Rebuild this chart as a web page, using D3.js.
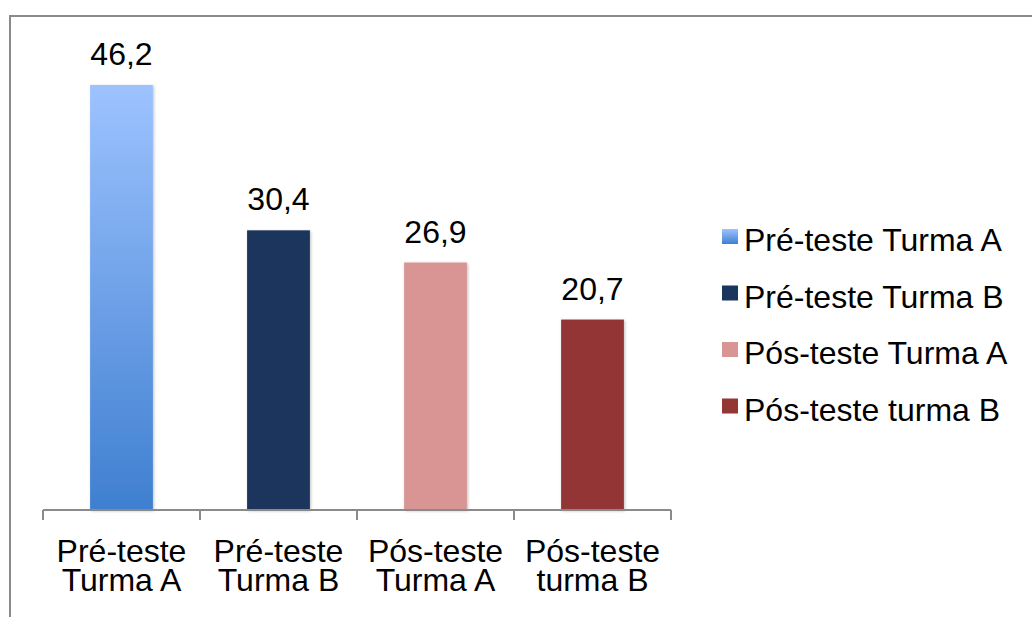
<!DOCTYPE html>
<html lang="pt">
<head>
<meta charset="UTF-8">
<title>Pré-teste e Pós-teste</title>
<style>
  html, body { margin: 0; background: #fff; }
  body, text { font-family: 'Liberation Sans', Arial, sans-serif; }
  svg { display: block; }
</style>
</head>
<body>
<svg width="1032" height="617"></svg>
<script src="https://d3js.org/d3.v7.min.js"></script>
<script>

const categories = ["Pré-teste Turma A", "Pré-teste Turma B", "Pós-teste Turma A", "Pós-teste turma B"];
const axisLabels = [["Pré-teste", "Turma A"], ["Pré-teste", "Turma B"], ["Pós-teste", "Turma A"], ["Pós-teste", "turma B"]];
const values = [46.2, 30.4, 26.9, 20.7];
const valueLabels = ["46,2", "30,4", "26,9", "20,7"];
const colors = ["url(#gradA)", "#1b365d", "#d99594", "#943634"];

const svg = d3.select("svg"),
    plot = {left: 43, right: 671, top: 50, bottom: 510};

const defs = svg.append("defs");
const grad = defs.append("linearGradient")
    .attr("id", "gradA")
    .attr("x1", 0).attr("y1", 0).attr("x2", 0).attr("y2", 1);
grad.append("stop").attr("offset", "0%").attr("stop-color", "#9dc3ff");
grad.append("stop").attr("offset", "100%").attr("stop-color", "#3f7fd0");

const shadow = defs.append("filter").attr("id", "shadow")
    .attr("x", "-20%").attr("y", "-5%").attr("width", "140%").attr("height", "110%");
shadow.append("feDropShadow")
    .attr("dx", 1).attr("dy", 1).attr("stdDeviation", 1.5)
    .attr("flood-color", "#000").attr("flood-opacity", 0.25);

// frame (only top and left edges show in the picture)
svg.append("path")
    .attr("d", "M10,617V16H1032")
    .attr("fill", "none")
    .attr("stroke", "#8a8a8a")
    .attr("stroke-width", 2);

const x = d3.scaleBand()
    .domain(categories)
    .range([plot.left, plot.right])
    .padding(0);

const y = d3.scaleLinear()
    .domain([0, 50])
    .range([plot.bottom, plot.top]);

const barW = x.bandwidth() * 0.4;

svg.append("g")
  .selectAll("rect")
  .data(values)
  .join("rect")
    .attr("x", (d, i) => x(categories[i]) + (x.bandwidth() - barW) / 2)
    .attr("y", d => y(d))
    .attr("width", barW)
    .attr("height", d => y(0) - y(d))
    .attr("fill", (d, i) => colors[i])
    .attr("filter", "url(#shadow)");

svg.append("g")
  .selectAll("text")
  .data(values)
  .join("text")
    .attr("x", (d, i) => x(categories[i]) + x.bandwidth() / 2)
    .attr("y", d => y(d) - 20)
    .attr("text-anchor", "middle")
    .attr("font-size", 32)
    .attr("fill", "#000")
    .text((d, i) => valueLabels[i]);

// category axis
const axisG = svg.append("g").attr("stroke", "#8a8a8a").attr("stroke-width", 2);
axisG.append("line")
    .attr("x1", plot.left).attr("x2", plot.right)
    .attr("y1", y(0)).attr("y2", y(0));
const tickXs = categories.map(c => x(c)).concat([plot.right]);
axisG.selectAll("line.tick")
  .data(tickXs)
  .join("line")
    .attr("class", "tick")
    .attr("x1", d => d).attr("x2", d => d)
    .attr("y1", y(0)).attr("y2", y(0) + 10);

const labG = svg.append("g");
categories.forEach((c, i) => {
  axisLabels[i].forEach((line, j) => {
    labG.append("text")
        .attr("x", x(c) + x.bandwidth() / 2)
        .attr("y", 562 + j * 28.5)
        .attr("text-anchor", "middle")
        .attr("font-size", 32)
        .attr("fill", "#000")
        .text(line);
  });
});

// legend
const legend = svg.append("g").attr("transform", "translate(722,251)");
const item = legend.selectAll("g")
  .data(categories)
  .join("g")
    .attr("transform", (d, i) => "translate(0," + (i * 56.5) + ")");
item.append("rect")
    .attr("x", 0).attr("y", -22)
    .attr("width", 16).attr("height", 15)
    .attr("fill", (d, i) => colors[i]);
item.append("text")
    .attr("x", 22)
    .attr("y", 0)
    .attr("font-size", 32)
    .attr("fill", "#000")
    .text(d => d);

</script>
</body>
</html>
